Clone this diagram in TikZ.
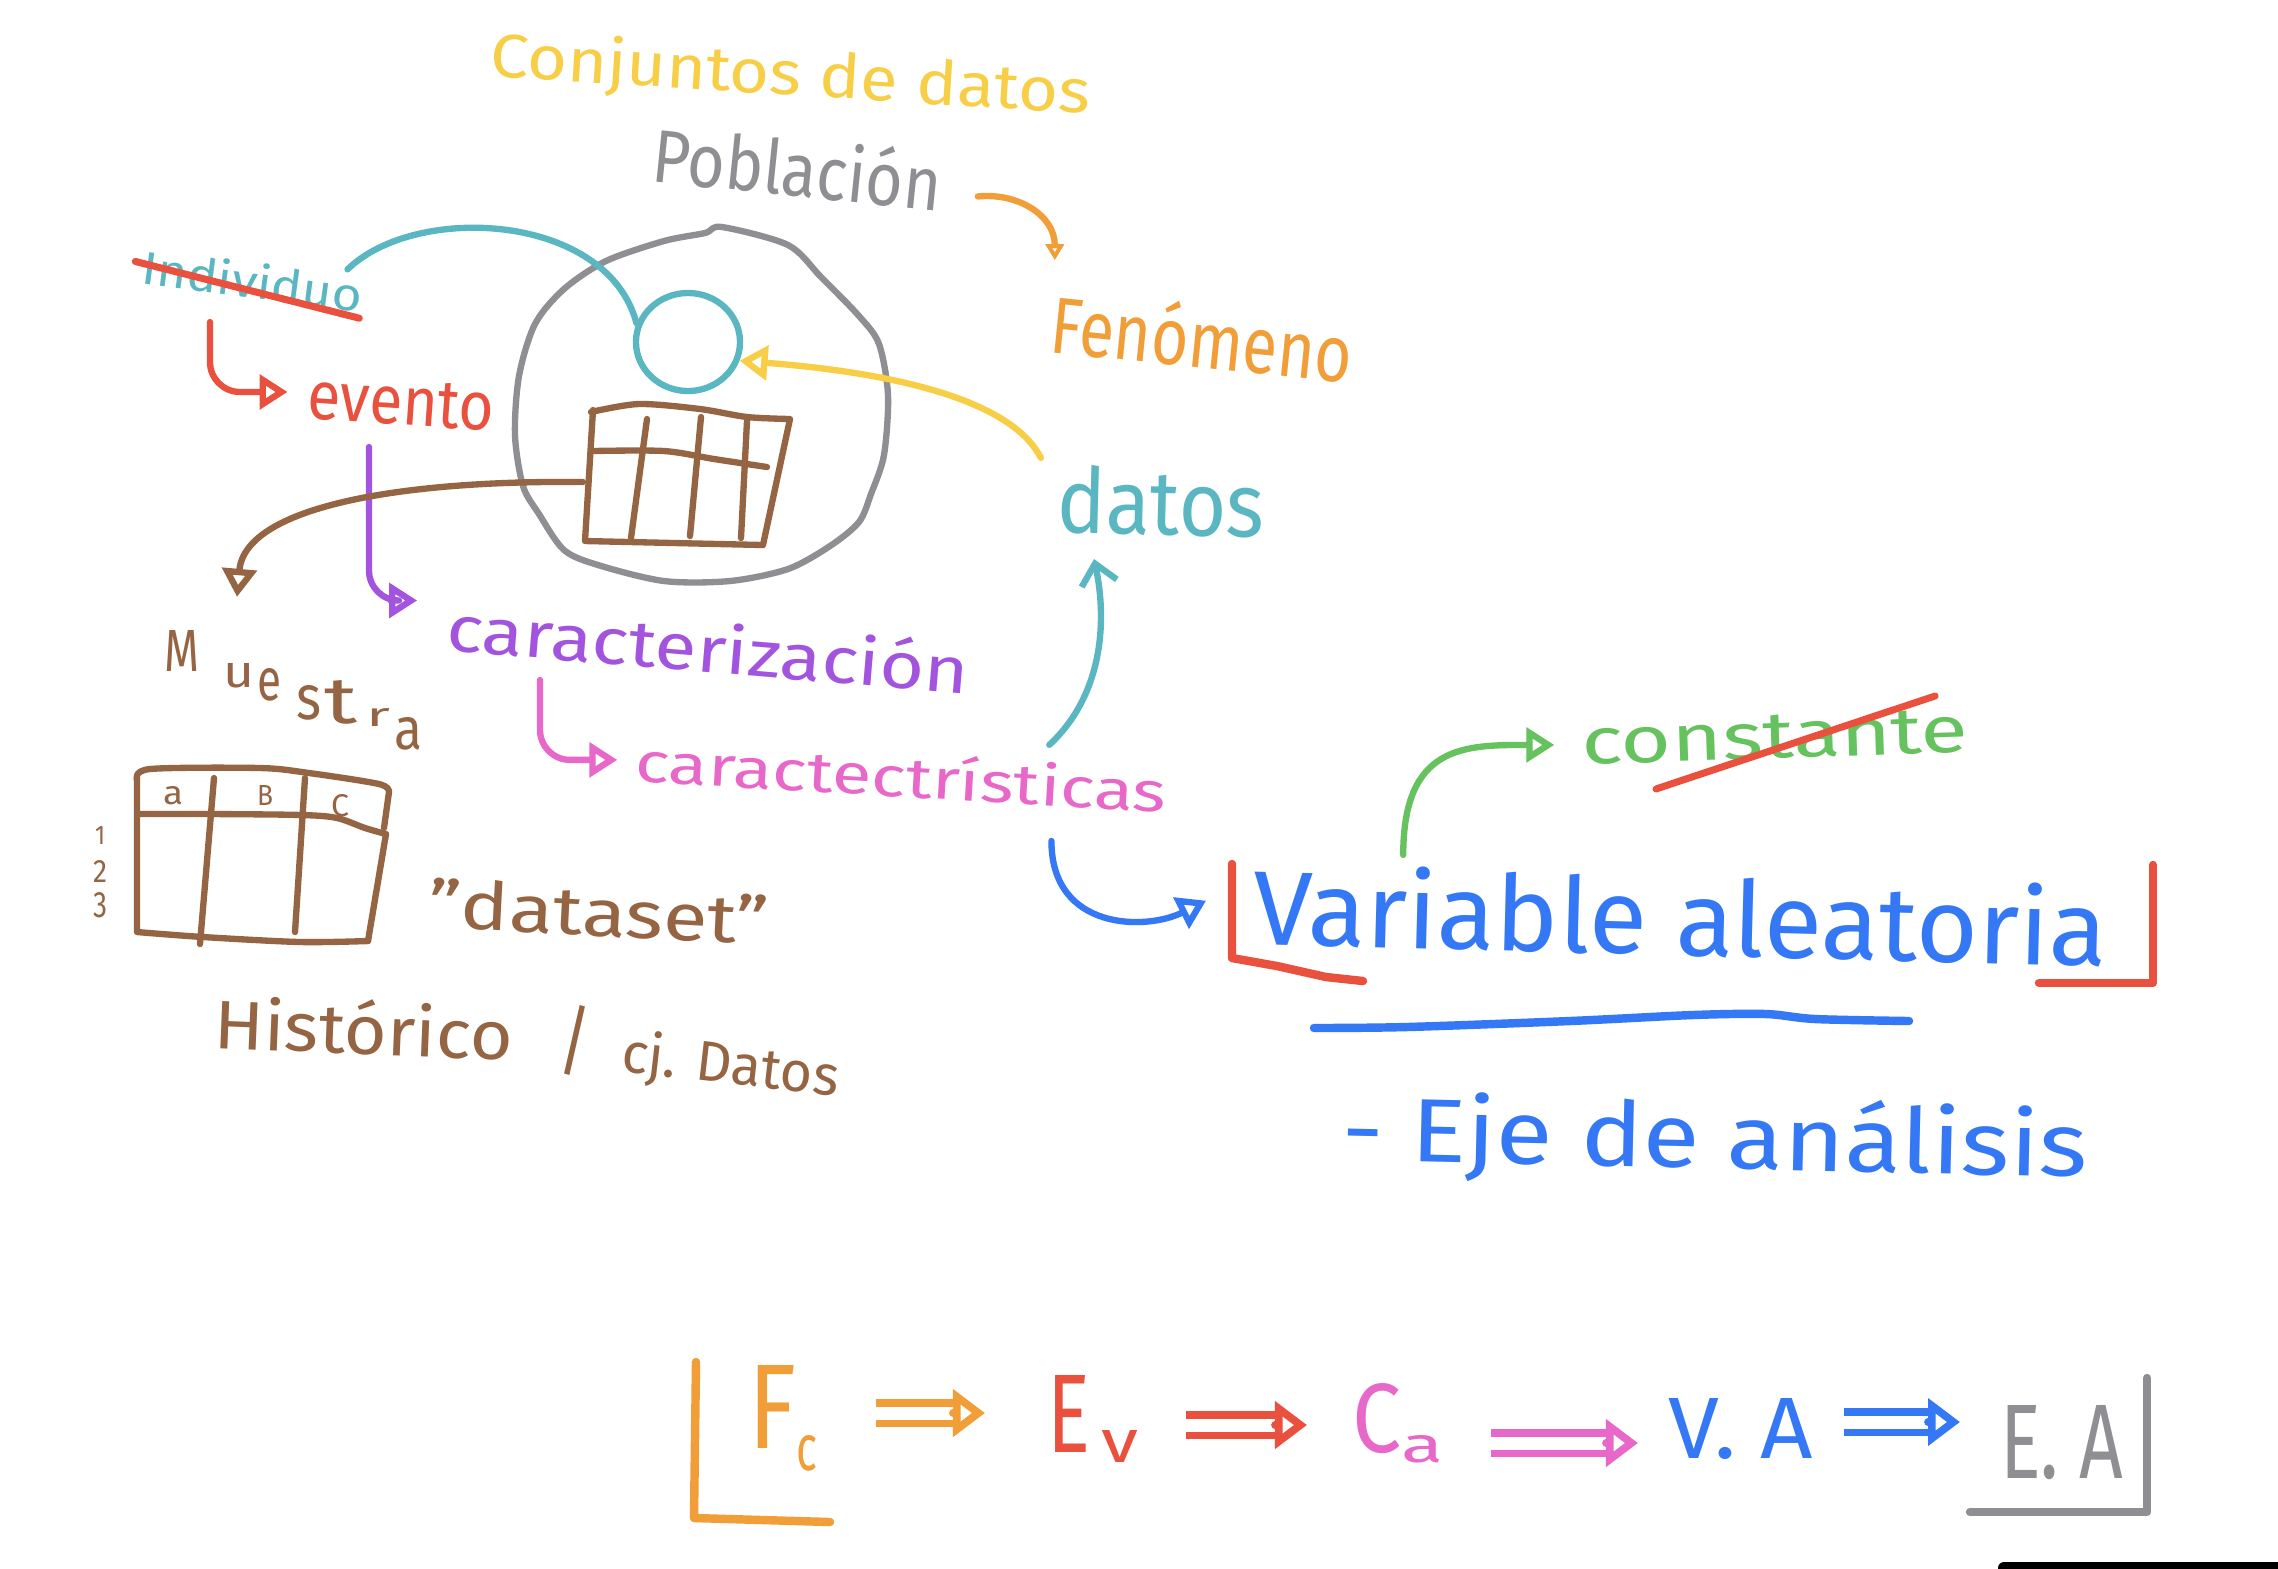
\documentclass[tikz,border=0pt]{standalone}
\usepackage{fontspec}
\setmainfont{Fira Sans}
\usepackage{graphicx}
\usetikzlibrary{arrows.meta,shapes.geometric}

\definecolor{hyellow}{RGB}{247,206,70}
\definecolor{hgray}{RGB}{142,142,147}
\definecolor{horange}{RGB}{241,158,56}
\definecolor{hteal}{RGB}{90,183,193}
\definecolor{hred}{RGB}{233,80,61}
\definecolor{hbrown}{RGB}{148,100,67}
\definecolor{hpurple}{RGB}{163,84,222}
\definecolor{hpink}{RGB}{232,104,202}
\definecolor{hblue}{RGB}{52,120,246}
\definecolor{hgreen}{RGB}{101,194,94}

\newdimen\hpx \hpx=0.01cm
\newcommand\hw[3]{\resizebox{#1\hpx}{#2\hpx}{#3}}

\tikzset{
  hpen/.style={line width=1.8pt,line cap=round,line join=round},
  hthick/.style={line width=2.4pt,line cap=round,line join=round},
  hand/.style={anchor=base west,inner sep=0pt},
  lbl/.style={inner sep=0pt},
  headarrow/.style={-{Triangle[open,length=0.28cm,width=0.34cm]}},
  smallhead/.style={-{Triangle[open,length=0.16cm,width=0.18cm]}},
  chevarrow/.style={-{Straight Barb[length=0.2cm,width=0.36cm]}},
  dblline/.style={double=white,double distance=0.13cm,line width=2.2pt,line cap=butt},
  chaintip/.style={line width=2.2pt,-{Triangle[open,length=0.32cm,width=0.46cm]}}
}

\begin{document}
\begin{tikzpicture}[x=0.01cm,y=-0.01cm,hpen]
\path[use as bounding box,fill=white] (0,0) rectangle (2278,1568);

\node at (486,76) [hand,hyellow,rotate=-3.6] (conj) {\hw{601}{48}{Conjuntos de datos}};
\node at (647,181) [hand,hgray,rotate=-5.9] (pobl) {\hw{290}{60}{Población}};
\node at (1045,352) [hand,horange,rotate=-5.8] (fenom) {\hw{303}{64}{Fenómeno}};
\node at (137,283) [hand,hteal,rotate=-7.6] (indiv) {\hw{222}{36}{Individuo}};
\node at (303,418) [hand,hred,rotate=-4] (evento) {\hw{187}{45}{evento}};
\node at (161,671) [hand,hbrown] (muestra) {\hw{35}{41}{M}\hspace{24\hpx}\raisebox{-16\hpx}{\hw{31}{24}{u}}\hspace{3\hpx}%
  \raisebox{-29\hpx}{\hw{24}{32}{e}}\hspace{15\hpx}\raisebox{-48\hpx}{\hw{25}{34}{s}}\hspace{3\hpx}%
  \raisebox{-52\hpx}{\hw{33}{43}{t}}\hspace{9\hpx}\raisebox{-55\hpx}{\hw{24}{18}{r}}\hspace{4\hpx}%
  \raisebox{-78\hpx}{\hw{28}{32}{a}}};
\node at (442,650) [hand,hpurple,rotate=-4.8] (caracz) {\hw{524}{52}{caracterización}};
\node at (631,781) [hand,hpink,rotate=-3.4] (caracts) {\hw{532}{45}{caractectrísticas}};
\node at (1053,532) [hand,hteal,rotate=-1.5] (datos) {\hw{208}{68}{datos}};
\node at (1249,944) [hand,hblue,rotate=-1.5] (varal) {\hw{855}{82}{Variable aleatoria}};
\node at (1579,765) [hand,hgreen,rotate=1.9] (const) {\hw{387}{43}{constante}};
\node at (1338,1160) [hand,hblue,rotate=-1.3] (eje) {\hw{746}{72}{- Eje de análisis}};
\node at (424,927) [hand,hbrown,rotate=-3] (dataset) {\hw{341}{50}{"dataset"}};
\node at (210,1048) [hand,hbrown,rotate=-2.3] (hist) {\hw{299}{55}{Histórico}};
\node at (575,1040) [lbl,hbrown] (slash) {\hw{35}{62}{/}};
\node at (617,1071) [hand,hbrown,rotate=-6.5] (cjdat) {\hw{218}{44}{cj. Datos}};

\node at (688,342) [ellipse,draw=hteal,minimum width=1.04cm,minimum height=0.98cm,inner sep=0pt] (smallc) {};

\draw[hgray] plot[smooth cycle] coordinates {(722,227) (788,245) (821,277) (859,316) (879,344) (888,395)
  (884,455) (871,494) (859,522) (830,546) (788,569) (730,581) (664,581) (598,565) (564,550) (539,514)
  (523,486) (515,435) (519,376) (535,324) (564,289) (606,261) (664,241) (705,233)};

\draw[hbrown] plot[smooth] coordinates {(591,412) (639,404) (700,409) (747,417) (790,419)} -- (763,545) -- (585,541) -- (593,410);
\draw[hbrown] plot[smooth] coordinates {(593,451) (664,451) (714,459) (767,467)};
\draw[hbrown] (647,419) -- (631,538);
\draw[hbrown] (701,417) -- (690,536);
\draw[hbrown] (747,421) -- (741,538);
\coordinate (tabrow) at (583,482);

\draw[hbrown] plot[smooth] coordinates {(137,780) (150,769) (260,768) (309,773) (379,784) (389,792)} -- (384,828);
\draw[hbrown] plot[smooth] coordinates {(140,814) (210,814) (302,815) (337,818) (365,828) (386,834)} -- (368,941);
\draw[hbrown] plot[smooth] coordinates {(368,941) (300,942) (203,937) (137,932)} -- (137,778);
\draw[hbrown] (214,778) -- (200,944);
\draw[hbrown] (305,778) -- (295,932);
\node at (173,796) [lbl,hbrown] (ha) {\hw{20}{18}{a}};
\node at (265,795) [lbl,hbrown] (hb) {\hw{16}{20}{B}};
\node at (340,806) [lbl,hbrown] (hc) {\hw{18}{22}{C}};
\node at (100,835) [lbl,hbrown] (r1) {\hw{10}{18}{1}};
\node at (100,871) [lbl,hbrown] (r2) {\hw{14}{22}{2}};
\node at (100,905) [lbl,hbrown] (r3) {\hw{14}{25}{3}};

\draw[hred,line width=2pt] ([shift={(-4,-4)}]indiv.west) -- ([shift={(-4,5)}]indiv.base east);
\draw[hred,line width=2pt] ([shift={(77,24)}]const.base west) -- ([shift={(-37,-56)}]const.base east);

\draw[horange,smallhead] ([shift={(36,-15)}]pobl.base east) .. controls +(40,-4) and +(0,-45) .. ([shift={(3,-25)}]fenom.north west);
\draw[hteal] ([shift={(-21,-5)}]indiv.north east) .. controls +(69,-67) and +(-29,-110) .. (smallc.160);
\draw[hyellow,headarrow] ([shift={(-14,-3)}]datos.north west) .. controls +(-31,-61) and +(143,11) .. (smallc.-20);
\draw[hred,headarrow,rounded corners=0.3cm] ([shift={(73,39)}]indiv.base west) |- ([shift={(-17,-4)}]evento.west);
\draw[hpurple,headarrow,rounded corners=0.3cm] ([shift={(66,29)}]evento.base west) |- ([shift={(-27,-24)}]caracz.west);
\draw[hpink,headarrow,rounded corners=0.3cm] ([shift={(98,30)}]caracz.base west) |- ([shift={(-15,1)}]caracts.west);
\draw[hteal,chevarrow] ([shift={(-122,-20)}]caracts.north east) .. controls +(52,-48) and +(14,65) .. ([shift={(-66,20)}]datos.south);
\draw[hbrown,headarrow] (tabrow) .. controls +(-183,-2) and +(8,-90) .. ([shift={(76,-30)}]muestra.north west);
\draw[hblue,headarrow] ([shift={(-117,28)}]caracts.base east) .. controls +(0,90) and +(-60,30) .. ([shift={(-44,-3)}]varal.west);
\draw[hgreen,headarrow] ([shift={(152,-4)}]varal.north west) .. controls +(0,-110) and +(-90,0) .. ([shift={(-24,1)}]const.west);

\draw[hred,hthick] (1232,864) -- (1232,958) -- (1277,966) -- (1326,977) -- (1363,981);
\draw[hred,hthick] (2153,865) -- (2153,983) -- (2039,983);
\draw[hblue,hthick] plot[smooth] coordinates {(1314,1028) (1407,1027) (1570,1021) (1693,1015) (1766,1014) (1815,1019) (1909,1021)};

\node at (745,1448) [hand,horange] (fc) {\hw{48}{83}{F}\raisebox{-22\hpx}{\hw{21}{35}{c}}};
\node at (1044,1452) [hand,hred] (ev) {\hw{43}{77}{E}\hspace{11\hpx}\raisebox{-10\hpx}{\hw{37}{32}{v}}};
\node at (1349,1452) [hand,hpink] (ca) {\hw{49}{69}{C}\raisebox{-10\hpx}{\hw{42}{27}{a}}};
\node at (1665,1458) [hand,hblue] (va) {\hw{145}{60}{V. A}};
\node at (1997,1478) [hand,hgray] (ea) {\hw{123}{73}{E. A}};

\draw[dblline,horange] ([shift={(56,-35)}]fc.base east) -- ([shift={(-91,-39)}]ev.base west);
\draw[chaintip,horange] ([shift={(-91,-39)}]ev.base west) -- ([shift={(-59,-39)}]ev.base west);
\draw[dblline,hred] ([shift={(45,-27)}]ev.base east) -- ([shift={(-74,-27)}]ca.base west);
\draw[chaintip,hred] ([shift={(-74,-27)}]ca.base west) -- ([shift={(-42,-27)}]ca.base west);
\draw[dblline,hpink] ([shift={(45,-9)}]ca.base east) -- ([shift={(-59,-15)}]va.base west);
\draw[chaintip,hpink] ([shift={(-59,-15)}]va.base west) -- ([shift={(-27,-15)}]va.base west);
\draw[dblline,hblue] ([shift={(28,-36)}]va.base east) -- ([shift={(-69,-56)}]ea.base west);
\draw[chaintip,hblue] ([shift={(-69,-56)}]ea.base west) -- ([shift={(-37,-56)}]ea.base west);

\draw[horange,hthick] (696,1362) -- (694,1518) -- (830,1522);
\draw[hgray,hthick] (2147,1378) -- (2147,1512) -- (1970,1512);

\fill[black,rounded corners=0.06cm] (1998,1562) rectangle (2300,1585);
\end{tikzpicture}
\end{document}
